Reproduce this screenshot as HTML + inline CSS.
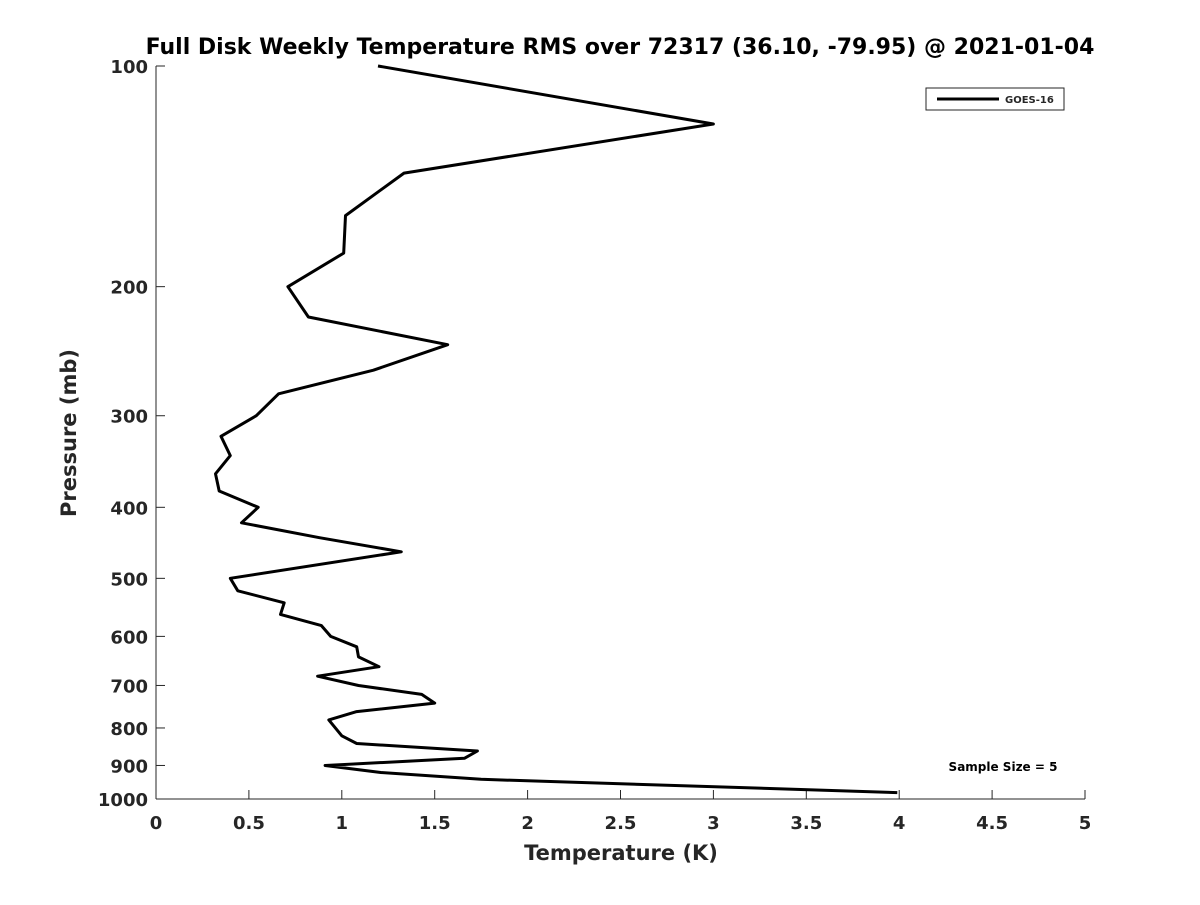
<!DOCTYPE html>
<html><head><meta charset="utf-8"><style>
html,body{margin:0;padding:0;background:#fff;}
svg text{font-family:"DejaVu Sans","Liberation Sans",sans-serif;font-weight:bold;fill:#262626;}
</style></head><body>
<svg id="chart" width="1200" height="900" xmlns="http://www.w3.org/2000/svg">
<rect width="1200" height="900" fill="#fff"/>
<text x="620" y="54" text-anchor="middle" font-size="22" fill="#000" style="fill:#000">Full Disk Weekly Temperature RMS over 72317 (36.10, -79.95) @ 2021-01-04</text>
<g id="axes"></g>
<path id="series" fill="none" stroke="#000" stroke-width="3" stroke-linejoin="round"/>
<g>
<rect x="926" y="88" width="138" height="22" fill="#fff" stroke="#262626" stroke-width="1"/>
<line x1="937" y1="99" x2="999" y2="99" stroke="#000" stroke-width="3"/>
<text x="1005" y="103" font-size="10">GOES-16</text>
</g>
<text x="1003" y="771" text-anchor="middle" font-size="12" style="fill:#000">Sample Size = 5</text>
<text x="621" y="860" text-anchor="middle" font-size="21">Temperature (K)</text>
<text transform="translate(76,433) rotate(-90)" text-anchor="middle" font-size="21">Pressure (mb)</text>
</svg>
<script>
const temps = [1.195,3.0,1.335,1.02,1.01,0.71,0.82,1.57,1.17,0.66,0.54,0.35,0.40,0.32,0.34,0.55,0.46,0.88,1.32,0.40,0.44,0.69,0.67,0.89,0.94,1.08,1.09,1.20,0.87,1.09,1.43,1.50,1.08,0.93,1.0,1.08,1.73,1.66,0.91,1.21,1.75,3.99];
const pressures = [100,120,140,160,180,200,220,240,260,280,300,320,340,360,380,400,420,440,460,500,520,540,560,580,600,620,640,660,680,700,720,740,760,780,820,840,860,880,900,920,940,980];
const xTicks = [0,0.5,1,1.5,2,2.5,3,3.5,4,4.5,5];
const xTickLabels = ["0","0.5","1","1.5","2","2.5","3","3.5","4","4.5","5"];
const yTicks = [100,200,300,400,500,600,700,800,900,1000];
const yTickLabels = ["100","200","300","400","500","600","700","800","900","1000"];
const X0=156,X1=1085,Y0=66,Y1=799;
function xs(t){return X0+(t-0)/(5-0)*(X1-X0);}
function ys(p){return Y0+(Math.log10(p)-2)/(3-2)*(Y1-Y0);}
const NS="http://www.w3.org/2000/svg";
const ax=document.getElementById('axes');
function mk(tag,attrs,parent){const e=document.createElementNS(NS,tag);for(const k in attrs)e.setAttribute(k,attrs[k]);(parent||ax).appendChild(e);return e;}
const yl=mk('line',{x1:X0,y1:Y0,x2:X0,y2:Y1,stroke:'#262626','stroke-width':1});


const xl=mk('line',{x1:X0,y1:Y1,x2:X1,y2:Y1,stroke:'#262626','stroke-width':1});


xTicks.forEach((t,i)=>{
  const x=xs(t);
  mk('line',{x1:x,y1:Y1,x2:x,y2:Y1-9,stroke:'#262626','stroke-width':1});
  const tx=mk('text',{x:x,y:Y1+30,'text-anchor':'middle','font-size':18});
  tx.textContent=xTickLabels[i];
  
  
});
yTicks.forEach((p,i)=>{
  const y=ys(p);
  mk('line',{x1:X0,y1:y,x2:X0+9,y2:y,stroke:'#262626','stroke-width':1});
  const tx=mk('text',{x:X0-8,y:y+7,'text-anchor':'end','font-size':18});
  tx.textContent=yTickLabels[i];
  
  
});
document.getElementById('series').setAttribute('d',temps.map((t,i)=>(i?'L':'M')+xs(t).toFixed(1)+','+ys(pressures[i]).toFixed(1)).join(' '));
</script>
</body></html>
